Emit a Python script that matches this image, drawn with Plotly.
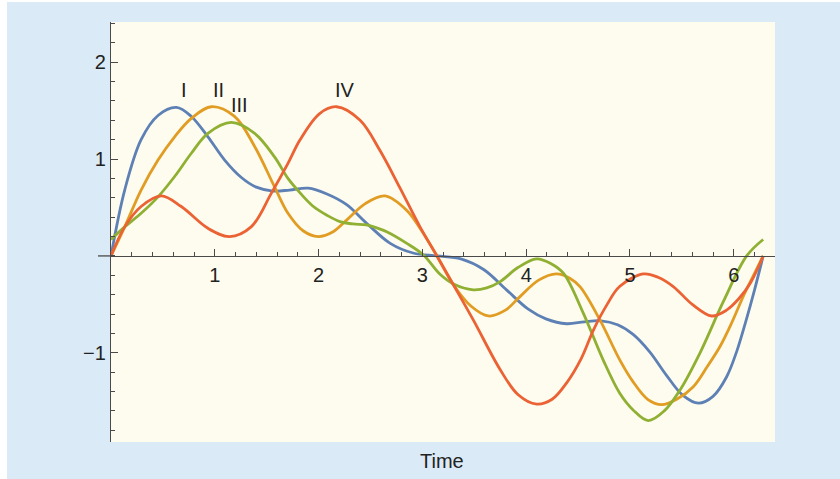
import plotly.graph_objects as go

# ---- data ----
t_I = [0, 0.132, 0.29, 0.453, 0.63, 0.774, 0.934, 1.095, 1.256, 1.40, 1.56, 1.72, 1.90, 2.08,
       2.27, 2.46, 2.69, 2.91, 3.14, 3.37, 3.59, 3.81, 4.02, 4.19, 4.39, 4.56, 4.72, 4.88, 5.03,
       5.19, 5.35, 5.51, 5.66, 5.80, 5.93, 6.03, 6.12, 6.20, 6.283]
y_I = [0, 0.68, 1.20, 1.45, 1.533, 1.44, 1.23, 0.99, 0.81, 0.71, 0.67, 0.68, 0.70, 0.64,
       0.53, 0.34, 0.13, 0.03, 0.0, -0.03, -0.14, -0.35, -0.55, -0.65, -0.70, -0.68, -0.67, -0.71, -0.81,
       -0.99, -1.23, -1.44, -1.52, -1.45, -1.25, -0.98, -0.66, -0.35, 0]

t_II = [0, 0.132, 0.29, 0.453, 0.613, 0.774, 0.966, 1.19, 1.384, 1.577, 1.705, 1.85, 1.997, 2.14,
        2.27, 2.45, 2.64, 2.85, 2.98, 3.14, 3.30, 3.47, 3.635, 3.80, 3.94, 4.12, 4.29, 4.42, 4.52,
        4.71, 4.90, 5.03, 5.17, 5.305, 5.45, 5.61, 5.74, 5.867, 5.98, 6.09, 6.19, 6.283]
y_II = [0, 0.30, 0.68, 0.99, 1.23, 1.42, 1.54, 1.44, 1.13, 0.71, 0.44, 0.26, 0.20, 0.25,
        0.37, 0.54, 0.62, 0.47, 0.28, 0.0, -0.30, -0.52, -0.62, -0.56, -0.42, -0.25, -0.186, -0.23, -0.32,
        -0.66, -1.07, -1.30, -1.48, -1.536, -1.48, -1.35, -1.15, -0.935, -0.69, -0.42, -0.20, 0]

t_III = [0, 0.132, 0.29, 0.453, 0.613, 0.774, 0.934, 1.159, 1.384, 1.577, 1.705, 1.83, 1.95, 2.08,
         2.206, 2.33, 2.46, 2.56, 2.656, 2.85, 3.01, 3.17, 3.30, 3.49, 3.62, 3.75, 3.92, 4.10, 4.24,
         4.36, 4.55, 4.74, 4.90, 5.03, 5.176, 5.33, 5.49, 5.675, 5.90, 6.124, 6.283]
y_III = [0.17, 0.30, 0.44, 0.61, 0.82, 1.06, 1.265, 1.378, 1.265, 1.02, 0.80, 0.64, 0.51, 0.42,
         0.354, 0.33, 0.32, 0.29, 0.25, 0.13, 0.01, -0.19, -0.29, -0.35, -0.33, -0.265, -0.12, -0.03, -0.08,
         -0.18, -0.59, -1.07, -1.415, -1.59, -1.70, -1.60, -1.37, -1.0, -0.47, 0.0, 0.17]

t_IV = [0, 0.132, 0.29, 0.485, 0.677, 0.934, 1.143, 1.35, 1.544, 1.705, 1.82, 2.01, 2.174, 2.40,
        2.59, 2.78, 2.977, 3.14, 3.30, 3.49, 3.75, 3.92, 4.10, 4.25, 4.39, 4.53, 4.65, 4.78, 4.90,
        5.128, 5.27, 5.417, 5.60, 5.787, 5.93, 6.05, 6.16, 6.283]
y_IV = [0, 0.30, 0.51, 0.62, 0.51, 0.285, 0.20, 0.30, 0.646, 0.955, 1.196, 1.47, 1.54, 1.40,
        1.09, 0.71, 0.30, 0.0, -0.30, -0.66, -1.175, -1.43, -1.53, -1.48, -1.31, -1.06, -0.76, -0.50, -0.316,
        -0.186, -0.22, -0.316, -0.50, -0.62, -0.56, -0.44, -0.28, 0]

labels = ["I", "II", "III", "IV"]
label_x = [0.703, 1.04, 1.24, 2.254]
label_y = [1.711, 1.711, 1.557, 1.711]

x_major = [1, 2, 3, 4, 5, 6]
y_major = [-1, 1, 2]

# ---- styling ----
colors = ["#5E81B5", "#E19C24", "#8FB032", "#EB6235"]
OFF_X, OFF_Y = 7, 2          # page offset of the figure (white strip left / top)
W, H = 840 - OFF_X, 479 - OFF_Y
L, R, T, B = 110 - OFF_X, 65, 22 - OFF_Y, 37
xr = [-0.0096, 6.397]
yr = [-1.921, 2.415]
axis_col = "#4a4a4a"
txt_col = "#222222"
font = "Liberation Sans, Arial, Helvetica, sans-serif"
fs = 20

fig = go.Figure()
for tt, yy, c in zip([t_I, t_II, t_III, t_IV], [y_I, y_II, y_III, y_IV], colors):
    fig.add_trace(go.Scatter(x=tt, y=yy, mode="lines",
                             line=dict(color=c, width=2.8, shape="spline", smoothing=1.0),
                             hoverinfo="skip", showlegend=False))

for s, xx, yy in zip(labels, label_x, label_y):
    fig.add_annotation(x=xx, y=yy, text=s, showarrow=False,
                       font=dict(family=font, size=fs, color=txt_col))

y0_paper = (0 - yr[0]) / (yr[1] - yr[0])
pw = W - L - R
ph = H - T - B

# x axis line stub extending left of the y axis
fig.add_shape(type="line", xref="paper", yref="paper",
              x0=(98 - 110) / pw, x1=0, y0=y0_paper, y1=y0_paper,
              line=dict(color=axis_col, width=1.3))

fig.add_annotation(xref="paper", yref="paper", x=(442 - 110) / pw, y=-(461 - 442) / ph,
                   text="Time", showarrow=False, xanchor="center", yanchor="middle",
                   font=dict(family=font, size=fs, color=txt_col))

fig.update_layout(
    width=W, height=H,
    margin=dict(l=L, r=R, t=T, b=B, pad=0),
    paper_bgcolor="#DAEAF6",
    plot_bgcolor="#FEFCEE",
    font=dict(family=font, size=fs, color=txt_col),
    xaxis=dict(range=xr, anchor="free", position=y0_paper, showgrid=False, zeroline=False,
               showline=True, linecolor=axis_col, linewidth=1.3,
               tickmode="array", tickvals=x_major, ticktext=[str(v) for v in x_major],
               ticks="inside", ticklen=7, tickwidth=1.2, tickcolor=axis_col,
               ticklabelstandoff=1,
               tickfont=dict(family=font, size=fs, color=txt_col),
               minor=dict(tickmode="linear", tick0=0, dtick=0.2, ticks="inside",
                          ticklen=4, tickwidth=1, tickcolor=axis_col, showgrid=False)),
    yaxis=dict(range=yr, anchor="free", position=0, showgrid=False, zeroline=False,
               showline=True, linecolor=axis_col, linewidth=1.3,
               tickmode="array", tickvals=y_major, ticktext=["\u22121", "1", "2"],
               ticks="inside", ticklen=7, tickwidth=1.2, tickcolor=axis_col,
               tickfont=dict(family=font, size=fs, color=txt_col),
               minor=dict(tickmode="linear", tick0=0, dtick=0.2, ticks="inside",
                          ticklen=4, tickwidth=1, tickcolor=axis_col, showgrid=False)),
)

fig.write_html("out.html",
               post_script="document.body.style.margin='%dpx 0 0 %dpx';"
                           "document.body.style.overflow='hidden';" % (OFF_Y, OFF_X))
